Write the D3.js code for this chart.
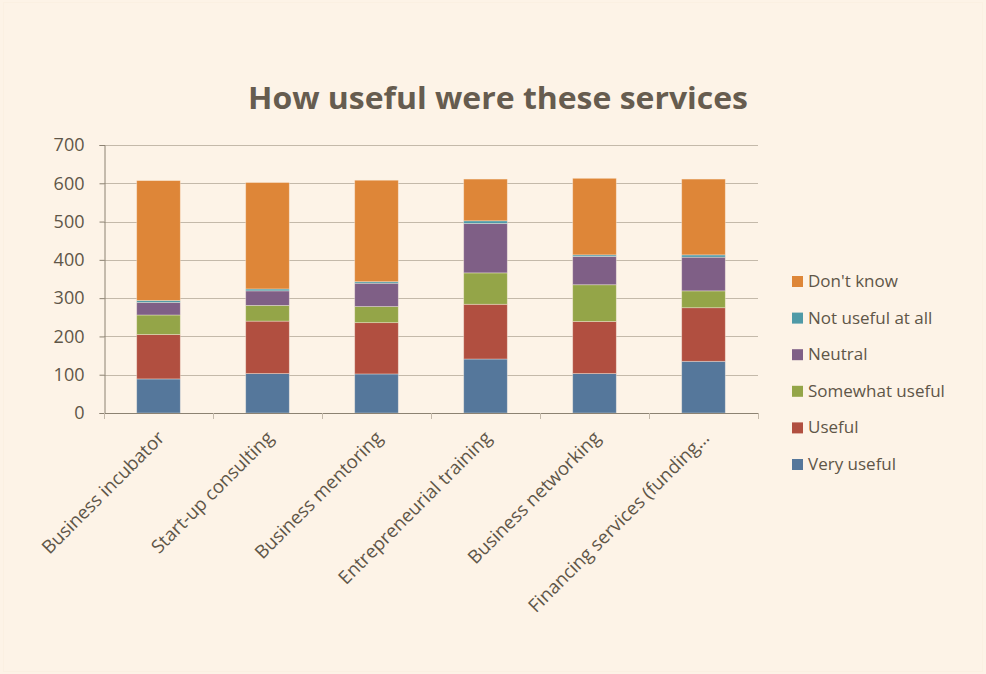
<!DOCTYPE html>
<html>
<head>
<meta charset="utf-8">
<script src="https://cdn.jsdelivr.net/npm/d3@7/dist/d3.min.js"></script>
<style>
  html, body { margin: 0; padding: 0; background: #fdf3e7; }
  svg { display: block; }
  text { font-family: "Open Sans", Lato, "Liberation Sans", sans-serif; }
</style>
</head>
<body>
<svg id="chart" width="986" height="674"></svg>
<script>
// Services asked about in the survey
const categories = [
  "Business incubator",
  "Start-up consulting",
  "Business mentoring",
  "Entrepreneurial training",
  "Business networking",
  "Financing services (funding\u2026"
];

// Responses per rating, one array per series (stack order bottom to top)
const seriesNames = ["Very useful", "Useful", "Somewhat useful", "Neutral", "Not useful at all", "Don't know"];
const veryUseful     = [89, 103, 102, 141, 103, 135];
const useful         = [116, 137, 134, 143, 136, 140];
const somewhatUseful = [51, 41, 42, 82, 96, 44];
const neutral        = [33, 38, 61, 129, 74, 88];
const notUsefulAtAll = [5, 5, 4, 7, 4, 6];
const dontKnow       = [313, 278, 265, 109, 200, 198];

const yTicks = [0, 100, 200, 300, 400, 500, 600, 700];
const colors = ["#55779b", "#b14f40", "#94a548", "#7f5f86", "#4f9aa7", "#de8638"];

const seriesValues = [veryUseful, useful, somewhatUseful, neutral, notUsefulAtAll, dontKnow];
const rows = categories.map((c, i) => {
  const r = { category: c };
  seriesNames.forEach((s, k) => { r[s] = seriesValues[k][i]; });
  return r;
});

const svg = d3.select("#chart");
const W = 986, H = 674;
const textColor = "#5f5648";

svg.append("rect").attr("x", 0).attr("y", 0).attr("width", W).attr("height", H).attr("fill", "#fdf3e7");
svg.append("rect").attr("x", 3.5).attr("y", 2.5).attr("width", W - 7).attr("height", H - 5)
  .attr("fill", "none").attr("stroke", "#fbf0e2").attr("stroke-width", 1);

const plot = { left: 104, right: 758, top: 145, bottom: 413 };

const x = d3.scaleBand().domain(categories).range([plot.left, plot.right]).paddingInner(0.6).paddingOuter(0.3);
const y = d3.scaleLinear().domain([0, 700]).range([plot.bottom, plot.top]);

// Title
svg.append("text")
  .attr("x", 498).attr("y", 109)
  .attr("text-anchor", "middle")
  .attr("font-size", 31).attr("font-weight", "bold")
  .attr("fill", "#665c4f")
  .attr("textLength", 500).attr("lengthAdjust", "spacingAndGlyphs")
  .text("How useful were these services");

// Gridlines
svg.append("g")
  .selectAll("line")
  .data(yTicks.filter(t => t > 0))
  .join("line")
  .attr("x1", plot.left).attr("x2", plot.right)
  .attr("y1", d => Math.round(y(d)) + 0.5).attr("y2", d => Math.round(y(d)) + 0.5)
  .attr("stroke", "#c4b9aa").attr("stroke-width", 1);

// Y axis
const yAxis = svg.append("g")
  .attr("transform", `translate(${plot.left + 0.5},0)`)
  .call(d3.axisLeft(y).tickValues(yTicks).tickSize(5).tickPadding(15));
yAxis.select(".domain").attr("stroke", "#8c8272");
yAxis.selectAll(".tick line").attr("stroke", "#8c8272");
yAxis.selectAll(".tick text").attr("fill", textColor).attr("font-size", 18)
  .attr("font-family", "'Open Sans', Lato, sans-serif");

// Stacked bars
const stacked = d3.stack().keys(seriesNames)(rows);
svg.append("g")
  .selectAll("g")
  .data(stacked)
  .join("g")
  .attr("fill", (d, i) => colors[i])
  .selectAll("rect")
  .data(d => d)
  .join("rect")
  .attr("x", d => x(d.data.category))
  .attr("width", x.bandwidth())
  .attr("y", d => y(d[1]))
  .attr("height", d => y(d[0]) - y(d[1]))
  .attr("stroke", "rgba(253,243,231,0.45)").attr("stroke-width", 0.8);

// X axis with category boundary ticks
const boundaries = d3.range(categories.length + 1).map(i => plot.left + i * (plot.right - plot.left) / categories.length);
svg.append("line")
  .attr("x1", plot.left).attr("x2", plot.right)
  .attr("y1", plot.bottom + 0.5).attr("y2", plot.bottom + 0.5)
  .attr("stroke", "#8c8272");
svg.append("g").selectAll("line")
  .data(boundaries)
  .join("line")
  .attr("x1", d => Math.round(d) + 0.5).attr("x2", d => Math.round(d) + 0.5)
  .attr("y1", plot.bottom).attr("y2", plot.bottom + 6)
  .attr("stroke", "#c4b9aa");

// Rotated category labels
svg.append("g").selectAll("text")
  .data(categories)
  .join("text")
  .attr("transform", d => `translate(${x(d) + x.bandwidth() / 2 + 7},${plot.bottom + 26}) rotate(-45)`)
  .attr("text-anchor", "end")
  .attr("font-size", 18.5)
  .attr("fill", textColor)
  .text(d => d);

// Legend, top entry is the top of the stack
const legendNames = seriesNames.slice().reverse();
const legend = svg.append("g").selectAll("g")
  .data(legendNames)
  .join("g")
  .attr("transform", (d, i) => `translate(792,${281 + i * 36.6})`);
legend.append("rect")
  .attr("x", 0).attr("y", -5).attr("width", 11).attr("height", 11)
  .attr("fill", d => colors[seriesNames.indexOf(d)]);
legend.append("text")
  .attr("x", 16).attr("y", 6)
  .attr("font-size", 17).attr("fill", textColor)
  .text(d => d);
</script>
</body>
</html>
